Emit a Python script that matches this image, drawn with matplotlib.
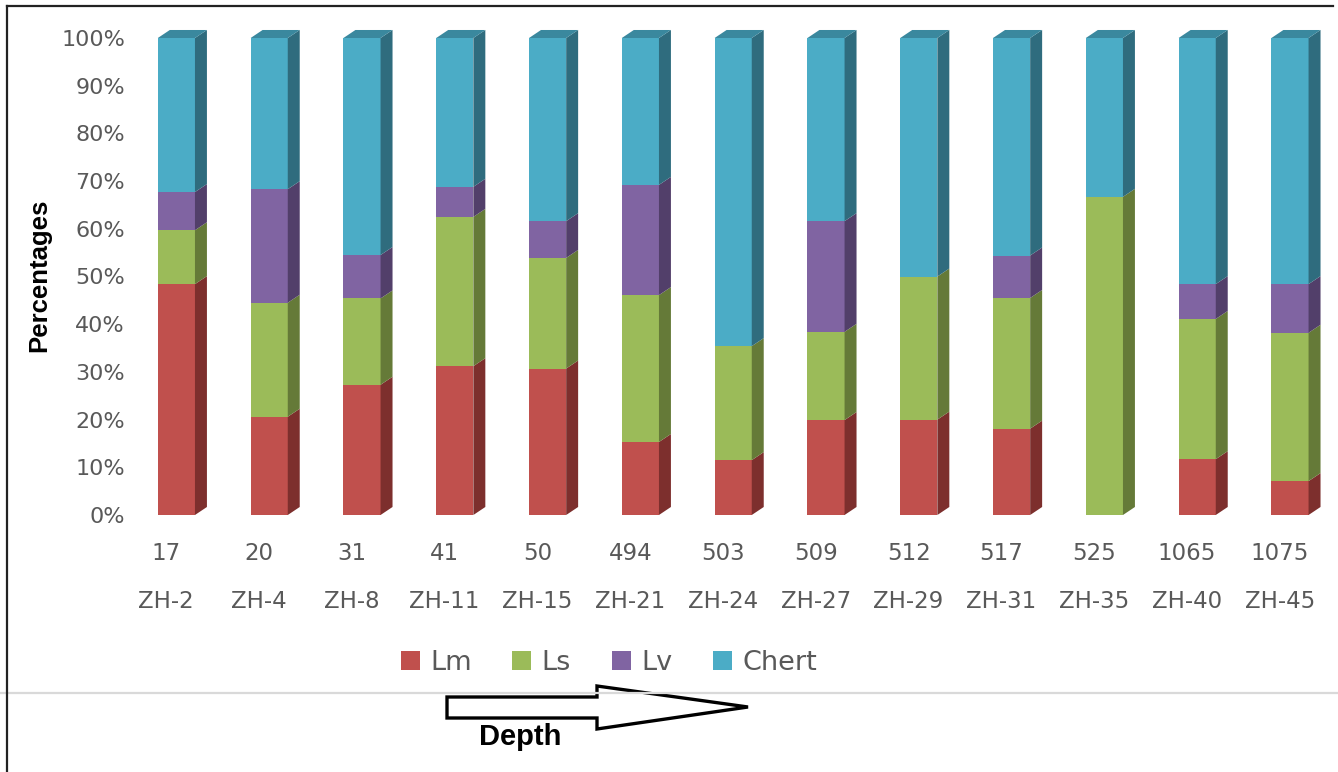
import matplotlib
matplotlib.use('Agg')
import numpy as np
import matplotlib.pyplot as plt
from matplotlib.patches import Polygon, Patch
from matplotlib.lines import Line2D

# data
depth = [17, 20, 31, 41, 50, 494, 503, 509, 512, 517, 525, 1065, 1075]
samples = ['ZH-2', 'ZH-4', 'ZH-8', 'ZH-11', 'ZH-15', 'ZH-21', 'ZH-24',
           'ZH-27', 'ZH-29', 'ZH-31', 'ZH-35', 'ZH-40', 'ZH-45']
lm = [48.4, 20.6, 27.3, 31.2, 30.7, 15.3, 11.5, 19.9, 20.0, 18.1, 0.0, 11.7, 7.1]
ls = [11.3, 23.9, 18.1, 31.3, 23.2, 30.8, 23.9, 18.5, 30.0, 27.4, 66.7, 29.4, 31.1]
lv = [8.0, 23.8, 9.1, 6.3, 7.7, 23.1, 0.0, 23.2, 0.0, 8.9, 0.0, 7.3, 10.2]
chert = [32.3, 31.7, 45.5, 31.2, 38.4, 30.8, 64.6, 38.4, 50.0, 45.6, 33.3, 51.6, 51.6]

series = [('Lm', lm), ('Ls', ls), ('Lv', lv), ('Chert', chert)]
front = ['#C0504D', '#9BBB59', '#8064A2', '#4BACC6']
side = ['#7D2F2D', '#657A38', '#523F6A', '#2F6C7E']
top = ['#9A3E3B', '#7E9A47', '#684F88', '#3A889E']

tick_col = '#595959'
W, H = 1338, 772
fig = plt.figure(figsize=(W / 100, H / 100), dpi=100)
ax = fig.add_axes([130 / W, 1 - 515 / H, 1206.4 / W, 477 / H])

x = np.arange(len(depth))
bw = 0.40
dx, dy = 0.129, 1.68

bottom = np.zeros(len(depth))
for k, (name, vals) in enumerate(series):
    vals = np.array(vals)
    ax.bar(x, vals, bw, bottom=bottom, color=front[k], edgecolor='none', zorder=2)
    for i in range(len(x)):
        if vals[i] <= 0:
            continue
        xr = x[i] + bw / 2
        y0, y1 = bottom[i], bottom[i] + vals[i]
        ax.add_patch(Polygon([(xr, y0), (xr + dx, y0 + dy), (xr + dx, y1 + dy), (xr, y1)],
                             closed=True, facecolor=side[k], edgecolor='none',
                             zorder=2, clip_on=False))
    bottom = bottom + vals

# top face uses colour of the uppermost segment
for i in range(len(x)):
    k = max(j for j, (_, v) in enumerate(series) if v[i] > 0)
    xl, xr = x[i] - bw / 2, x[i] + bw / 2
    yt = bottom[i]
    ax.add_patch(Polygon([(xl, yt), (xl + dx, yt + dy), (xr + dx, yt + dy), (xr, yt)],
                         closed=True, facecolor=top[k], edgecolor='none',
                         zorder=2, clip_on=False))

ax.set_xlim(-0.5, 12.5)
ax.set_ylim(0, 100)
ax.set_yticks(np.arange(0, 101, 10))
ax.set_yticklabels([f'{v}%' for v in range(0, 101, 10)])
ax.tick_params(axis='y', length=0, pad=3.6, labelsize=16, labelcolor=tick_col)
ax.set_xticks([])
for s in ax.spines.values():
    s.set_visible(False)

# two rows of category labels
tr = ax.get_xaxis_transform()
for i in range(len(x)):
    ax.text(x[i] - 0.11, -0.0797, str(depth[i]), transform=tr, ha='center', va='center',
            fontsize=16.5, color=tick_col)
    ax.text(x[i] - 0.11, -0.182, samples[i], transform=tr, ha='center', va='center',
            fontsize=16.5, color=tick_col)

fig.text(39 / W, 1 - 275.5 / H, 'Percentages', rotation=90, ha='center', va='center',
         fontsize=18.5, fontweight='bold', family='Liberation Sans')

handles = [Patch(facecolor=front[k], edgecolor='none') for k in range(4)]
fig.legend(handles, [n for n, _ in series], ncol=4, loc='center',
           bbox_to_anchor=(609 / W, 1 - 663 / H), frameon=False,
           fontsize=19.5, labelcolor=tick_col, handlelength=0.7, handleheight=0.7,
           handletextpad=0.39, columnspacing=1.5)

# frame lines of the original picture
def px(xp, yp):
    return xp / W, 1 - yp / H

fig.add_artist(Line2D([0, 1], [1 - 693 / H] * 2, color='#d9d9d9', lw=1.6))
fig.add_artist(Line2D([7 / W, 7 / W], [0, 1 - 6 / H], color='#222222', lw=1.6))
fig.add_artist(Line2D([7 / W, 1333 / W], [1 - 6 / H] * 2, color='#222222', lw=1.6))

# depth arrow
arrow_px = [(447, 697), (597, 697), (597, 686), (748, 707), (597, 729), (597, 718), (447, 718)]
fig.add_artist(Polygon([px(a, b) for a, b in arrow_px], closed=True, facecolor='white',
                       edgecolor='black', lw=2.4, transform=fig.transFigure))
fig.text(520 / W, 1 - 737 / H, 'Depth', ha='center', va='center', fontsize=21,
         fontweight='bold', family='Liberation Sans')

fig.savefig('out.png', dpi=100)
